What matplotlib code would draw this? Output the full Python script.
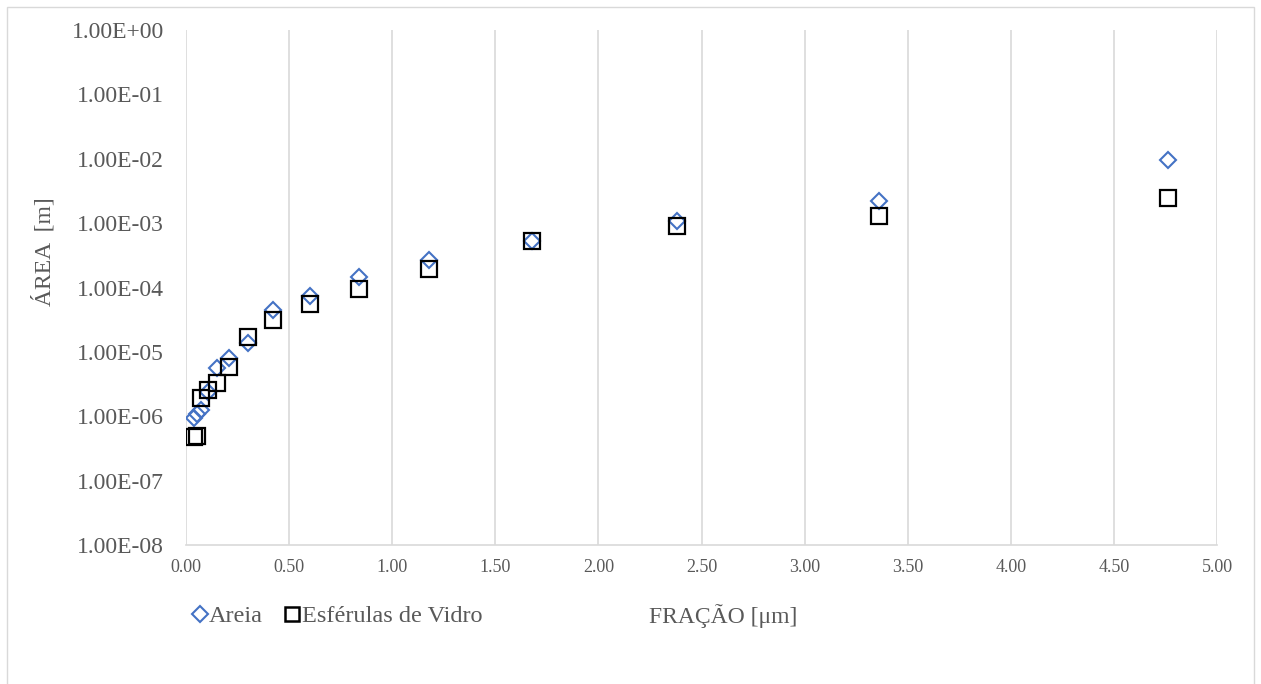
import numpy as np
import matplotlib as mpl
mpl.use("Agg")
import matplotlib.pyplot as plt
import matplotlib.ticker as ticker
from matplotlib.lines import Line2D
from matplotlib.patches import Rectangle

mpl.rcParams.update({
    "font.family": ["Liberation Serif", "DejaVu Serif"],
    "text.color": "#595959",
    "axes.labelcolor": "#595959",
    "xtick.color": "#595959",
    "ytick.color": "#595959",
})

# sieve fractions and measured areas
fracao = [0.037, 0.053, 0.074, 0.105, 0.149, 0.21, 0.30, 0.42, 0.60, 0.84,
          1.18, 1.68, 2.38, 3.36, 4.76]
area_areia = [9.5e-7, 1.1e-6, 1.26e-6, 2.4e-6, 5.6e-6, 7.9e-6, 1.35e-5, 4.4e-5,
              7.3e-5, 1.44e-4, 2.63e-4, 5.2e-4, 1.08e-3, 2.2e-3, 9.4e-3]
area_vidro = [4.8e-7, 5.0e-7, 1.9e-6, 2.6e-6, 3.3e-6, 5.9e-6, 1.7e-5, 3.1e-5,
              5.6e-5, 9.5e-5, 1.95e-4, 5.3e-4, 9.1e-4, 1.29e-3, 2.45e-3]

W, H = 1261, 684
fig = plt.figure(figsize=(W / 100, H / 100), dpi=100)
ax = fig.add_axes([186 / W, 1 - 545 / H, (1217 - 186) / W, (545 - 30) / H])

# chart frame
fig.patches.append(Rectangle((7 / W, -0.05), (1254 - 7) / W, 1 - 7 / H + 0.05,
                             transform=fig.transFigure, fill=False,
                             edgecolor="#d9d9d9", linewidth=1.0))

ax.plot(fracao, area_areia, linestyle="none", marker="D", markersize=8.6,
        markerfacecolor="none", markeredgecolor="#4472c4", markeredgewidth=1.5,
        zorder=3)
ax.plot(fracao, area_vidro, linestyle="none", marker="s", markersize=12,
        markerfacecolor="none", markeredgecolor="black", markeredgewidth=1.6,
        zorder=4)

ax.set_yscale("log")
ax.set_ylim(1e-8, 1)
ax.set_xlim(0, 5)
ax.xaxis.set_major_locator(ticker.MultipleLocator(0.5))
ax.yaxis.set_major_locator(ticker.LogLocator(base=10, numticks=12))
ax.yaxis.set_minor_locator(ticker.NullLocator())
ax.xaxis.set_major_formatter(ticker.FuncFormatter(lambda v, p: f"{v:.2f}"))
ax.yaxis.set_major_formatter(ticker.FuncFormatter(lambda v, p: f"{v:.2E}"))

ax.grid(axis="x", color="#d9d9d9", linewidth=1.2)
ax.set_axisbelow(True)
for s in ["top", "right", "left"]:
    ax.spines[s].set_visible(False)
ax.spines["bottom"].set_color("#d9d9d9")
ax.spines["bottom"].set_linewidth(1.2)

ax.tick_params(axis="both", length=0)
ax.tick_params(axis="y", labelsize=17, pad=16)
ax.tick_params(axis="x", labelsize=13, pad=10)

ax.set_xlabel("FRAÇÃO [μm]", fontsize=17)
ax.xaxis.set_label_coords((723 - 186) / (1217 - 186), -(616 - 545) / (545 - 30))
ax.xaxis.label.set_va("center")
ax.set_ylabel("ÁREA  [m]", fontsize=17)
ax.yaxis.set_label_coords(-(186 - 44) / (1217 - 186), (545 - 252) / (545 - 30))
ax.yaxis.label.set_va("center")

handles = [
    Line2D([], [], linestyle="none", marker="D", markersize=8.4,
           markerfacecolor="none", markeredgecolor="#4472c4", markeredgewidth=1.5),
    Line2D([], [], linestyle="none", marker="s", markersize=10,
           markerfacecolor="none", markeredgecolor="black", markeredgewidth=1.8),
]
fig.legend(handles, ["Areia", "Esférulas de Vidro"], loc="center left",
           bbox_to_anchor=(191 / W, 1 - 616 / H), ncol=2, frameon=False,
           fontsize=17.5, handlelength=0.7, handletextpad=0.05,
           columnspacing=0.85, borderpad=0, borderaxespad=0)

fig.savefig("out.png", dpi=100)
